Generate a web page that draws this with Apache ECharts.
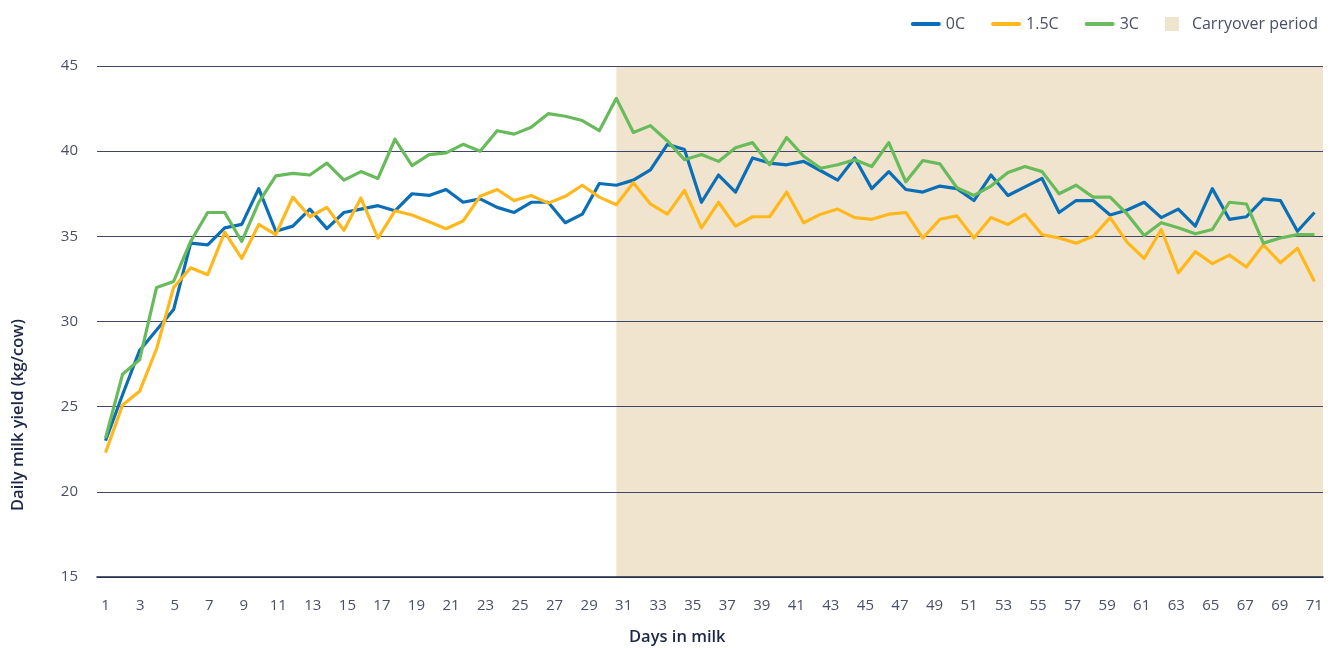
<!DOCTYPE html>
<html>
<head>
<meta charset="utf-8">
<script src="https://cdn.jsdelivr.net/npm/echarts@6/dist/echarts.min.js"></script>
<style>
  html, body { margin: 0; padding: 0; background: #ffffff; }
  #chart { width: 1333px; height: 648px; }
</style>
</head>
<body>
<div id="chart"></div>
<script>
// x-axis tick labels (days in milk)
const dayLabels = Array.from({ length: 71 }, (_, i) => String(i + 1));

// Daily milk yield (kg/cow), one value per recorded sample (72 samples across the axis)
const milk0C = [
  23.0, 25.7, 28.3, 29.5, 30.7, 34.6, 34.5, 35.5, 35.7, 37.8,
  35.3, 35.6, 36.6, 35.45, 36.4, 36.6, 36.8, 36.5, 37.5, 37.4,
  37.75, 37.0, 37.2, 36.7, 36.4, 37.0, 37.0, 35.8, 36.3, 38.1,
  38.0, 38.3, 38.9, 40.4, 40.1, 37.0, 38.6, 37.6, 39.6, 39.3,
  39.2, 39.4, 38.85, 38.3, 39.6, 37.8, 38.8, 37.75, 37.6, 37.95,
  37.8, 37.1, 38.6, 37.4, 37.9, 38.4, 36.4, 37.1, 37.1, 36.25,
  36.55, 37.0, 36.1, 36.6, 35.6, 37.8, 36.0, 36.15, 37.2, 37.1,
  35.3, 36.4
];
const milk15C = [
  22.3, 25.1, 25.9, 28.4, 32.0, 33.15, 32.75, 35.25, 33.7, 35.7,
  35.1, 37.3, 36.15, 36.7, 35.35, 37.25, 34.9, 36.5, 36.25, 35.85,
  35.45, 35.9, 37.35, 37.75, 37.1, 37.4, 36.95, 37.35, 38.0, 37.3,
  36.85, 38.15, 36.9, 36.3, 37.7, 35.5, 37.0, 35.6, 36.15, 36.15,
  37.6, 35.8, 36.3, 36.6, 36.1, 36.0, 36.3, 36.4, 34.9, 36.0,
  36.2, 34.9, 36.1, 35.7, 36.3, 35.1, 34.9, 34.6, 35.0, 36.1,
  34.65, 33.7, 35.4, 32.85, 34.1, 33.4, 33.9, 33.2, 34.5, 33.45,
  34.3, 32.35
];
const milk3C = [
  23.15, 26.9, 27.75, 32.0, 32.35, 34.7, 36.4, 36.4, 34.7, 37.0,
  38.55, 38.7, 38.6, 39.3, 38.3, 38.8, 38.4, 40.7, 39.15, 39.8,
  39.9, 40.4, 40.0, 41.2, 41.0, 41.4, 42.2, 42.05, 41.8, 41.2,
  43.1, 41.1, 41.5, 40.6, 39.5, 39.8, 39.4, 40.2, 40.5, 39.2,
  40.8, 39.7, 39.0, 39.2, 39.5, 39.1, 40.5, 38.2, 39.45, 39.25,
  37.85, 37.4, 37.95, 38.75, 39.1, 38.8, 37.5, 38.0, 37.3, 37.3,
  36.3, 35.05, 35.8, 35.5, 35.15, 35.4, 37.0, 36.9, 34.6, 34.9,
  35.1, 35.1
];
// index of the sample where the carryover period begins
const carryoverStartSample = 30;

const seriesNames = ['0C', '1.5C', '3C'];
const seriesColors = ['#0a6fb6', '#ffb81c', '#67bb5a'];
const carryoverName = 'Carryover period';
const carryoverColor = '#f0e4cf';

const sampleIds = milk0C.map((_, i) => String(i));

const lineIcon = 'path://M2,0 L28,0 A2,2 0 0 1 28,4 L2,4 A2,2 0 0 1 2,0 Z';
const squareIcon = 'path://M0,0 L14,0 L14,14 L0,14 Z';

const textColor = '#4a4f68';
const titleColor = '#1d2746';
const fontFamily = '"Open Sans", "Noto Sans", sans-serif';

const chart = echarts.init(document.getElementById('chart'), null, { renderer: 'canvas' });

function lineSeries(name, data, color) {
  return {
    name: name,
    type: 'line',
    xAxisIndex: 1,
    data: data,
    symbol: 'none',
    smooth: false,
    z: 4,
    color: color,
    lineStyle: { color: color, width: 3.2, join: 'round' },
    emphasis: { disabled: true }
  };
}

chart.setOption({
  animation: false,
  backgroundColor: '#ffffff',
  textStyle: { fontFamily: fontFamily },
  grid: { left: 97, right: 10, top: 66, bottom: 71, containLabel: false },
  legend: {
    right: 10,
    top: 11,
    itemWidth: 30,
    itemHeight: 14,
    itemGap: 26,
    textStyle: { color: textColor, fontSize: 16, fontFamily: fontFamily },
    data: [
      { name: seriesNames[0], icon: lineIcon },
      { name: seriesNames[1], icon: lineIcon },
      { name: seriesNames[2], icon: lineIcon },
      { name: carryoverName, icon: squareIcon }
    ]
  },
  xAxis: [
    {
      type: 'category',
      data: dayLabels,
      boundaryGap: true,
      axisLine: { show: true, lineStyle: { color: '#1f2a48', width: 1.6 } },
      axisTick: { show: false },
      axisLabel: { interval: 1, color: textColor, fontSize: 15, margin: 21, fontFamily: fontFamily },
      splitLine: { show: false },
      z: 5
    },
    {
      type: 'category',
      data: sampleIds,
      boundaryGap: true,
      show: false
    }
  ],
  yAxis: {
    type: 'value',
    min: 15,
    max: 45,
    interval: 5,
    axisLine: { show: false },
    axisTick: { show: false },
    axisLabel: { color: textColor, fontSize: 15, margin: 19, fontFamily: fontFamily },
    splitLine: { show: true, lineStyle: { color: '#3e4766', width: 1.1 } },
    z: 3
  },
  series: [
    {
      name: carryoverName,
      type: 'line',
      xAxisIndex: 1,
      data: [],
      color: carryoverColor,
      itemStyle: { color: carryoverColor },
      z: 1,
      markArea: {
        silent: true,
        z: 1,
        itemStyle: { color: carryoverColor, opacity: 1 },
        data: [[{ xAxis: carryoverStartSample }, {}]]
      }
    },
    lineSeries(seriesNames[0], milk0C, seriesColors[0]),
    lineSeries(seriesNames[1], milk15C, seriesColors[1]),
    lineSeries(seriesNames[2], milk3C, seriesColors[2])
  ],
  graphic: [
    {
      type: 'text',
      left: 629,
      top: 629,
      style: { text: 'Days in milk', fill: titleColor, font: '600 16.5px ' + fontFamily }
    },
    {
      type: 'text',
      x: 10,
      y: 511,
      rotation: Math.PI / 2,
      style: { text: 'Daily milk yield (kg/cow)', fill: titleColor, font: '600 16.5px ' + fontFamily, textAlign: 'left', textVerticalAlign: 'top' }
    }
  ]
});
</script>
</body>
</html>
